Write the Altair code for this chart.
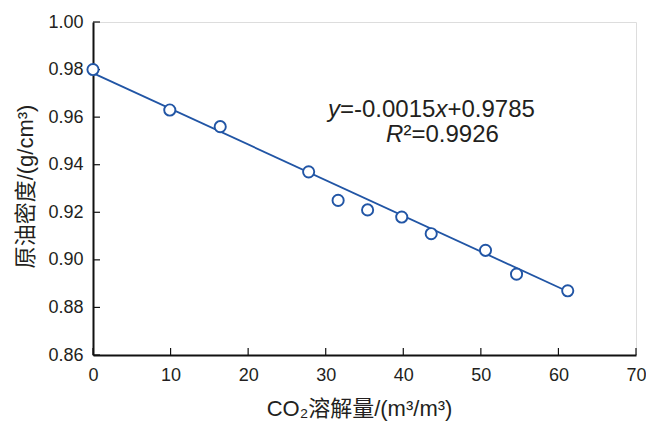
import altair as alt
import pandas as pd

# Data
co2 = [0, 9.9, 16.4, 27.8, 31.6, 35.4, 39.8, 43.6, 50.6, 54.6, 61.2]
density = [0.980, 0.963, 0.956, 0.937, 0.925, 0.921, 0.918, 0.911, 0.904, 0.894, 0.887]
fit_x = [0, 61.2]
fit_y = [0.9785, 0.8867]
x_ticks = [0, 10, 20, 30, 40, 50, 60, 70]
y_ticks = [0.86, 0.88, 0.90, 0.92, 0.94, 0.96, 0.98, 1.00]

W, H = 543, 333
BLUE = "#2155a5"
TXT = "#231f20"
FONT = "Liberation Sans, Arial, Noto Sans CJK SC"

pts = pd.DataFrame({"x": co2, "y": density})
fit = pd.DataFrame({"x": fit_x, "y": fit_y})
xt = pd.DataFrame({"x": x_ticks})
yt = pd.DataFrame({"y": y_ticks})

xscale = alt.Scale(domain=[0, 70], nice=False, zero=False)
yscale = alt.Scale(domain=[0.86, 1.00], nice=False, zero=False)

xaxis = alt.Axis(values=x_ticks, tickSize=0, labelPadding=11, labelFontSize=18,
                 labelFlush=False, labelOverlap=False,
                 labelColor=TXT, labelFont=FONT, domainColor="#111", domainWidth=2,
                 grid=False, title="CO₂溶解量/(m³/m³)", titleFont=FONT, titleFontSize=22,
                 titleFontWeight="normal", titleColor=TXT, titleX=266, titleY=53,
                 titleAnchor="middle", titleAlign="center", titleBaseline="middle")
yaxis = alt.Axis(values=y_ticks, format=".2f", tickSize=0, labelPadding=10, labelFontSize=18,
                 labelFlush=False, labelOverlap=False,
                 labelColor=TXT, labelFont=FONT, domainColor="#111", domainWidth=2,
                 grid=False, title="原油密度/(g/cm³)", titleFont=FONT, titleFontSize=22,
                 titleFontWeight="normal", titleColor=TXT, titleX=-68, titleY=164,
                 titleAngle=-90, titleAlign="center", titleBaseline="middle")

X = alt.X("x:Q", scale=xscale, axis=xaxis)
Y = alt.Y("y:Q", scale=yscale, axis=yaxis)

line = alt.Chart(fit).mark_line(color=BLUE, strokeWidth=1.8).encode(x=X, y=Y)
points = alt.Chart(pts).mark_point(shape="circle", size=125, filled=False, fill="white",
                                   fillOpacity=1, stroke=BLUE, strokeWidth=1.9,
                                   opacity=1).encode(x=X, y=Y)

xtick = alt.Chart(xt).mark_rule(color="#111", strokeWidth=1.2).encode(
    x=X, y=alt.value(H), y2=alt.value(H - 7))
ytick = alt.Chart(yt).mark_rule(color="#111", strokeWidth=1.2).encode(
    y=Y, x=alt.value(0), x2=alt.value(7))

one = pd.DataFrame({"a": [0]})
def txt(s, x, y, italic=False, size=24):
    kw = dict(text=s, align="left", baseline="alphabetic", font=FONT,
              fontSize=size, color=TXT)
    if italic:
        kw["fontStyle"] = "italic"
    return alt.Chart(one).mark_text(**kw).encode(x=alt.value(x), y=alt.value(y))

eq = [
    txt("y", 235, 95, True),
    txt("=-0.0015", 247, 95),
    txt("x", 342.4, 95, True),
    txt("+0.9785", 354.4, 95),
    txt("R", 293, 120, True),
    txt("²=0.9926", 310.5, 120),
]

chart = alt.layer(line, xtick, ytick, points, *eq).properties(
    width=W, height=H,
    autosize=alt.AutoSizeParams(type="none"),
    padding={"left": 93, "top": 22, "right": 10, "bottom": 67},
).configure_view(stroke="#666", strokeWidth=1.5).configure(background="white")

chart.save("out.html", embed_options={"renderer": "svg", "actions": False})
